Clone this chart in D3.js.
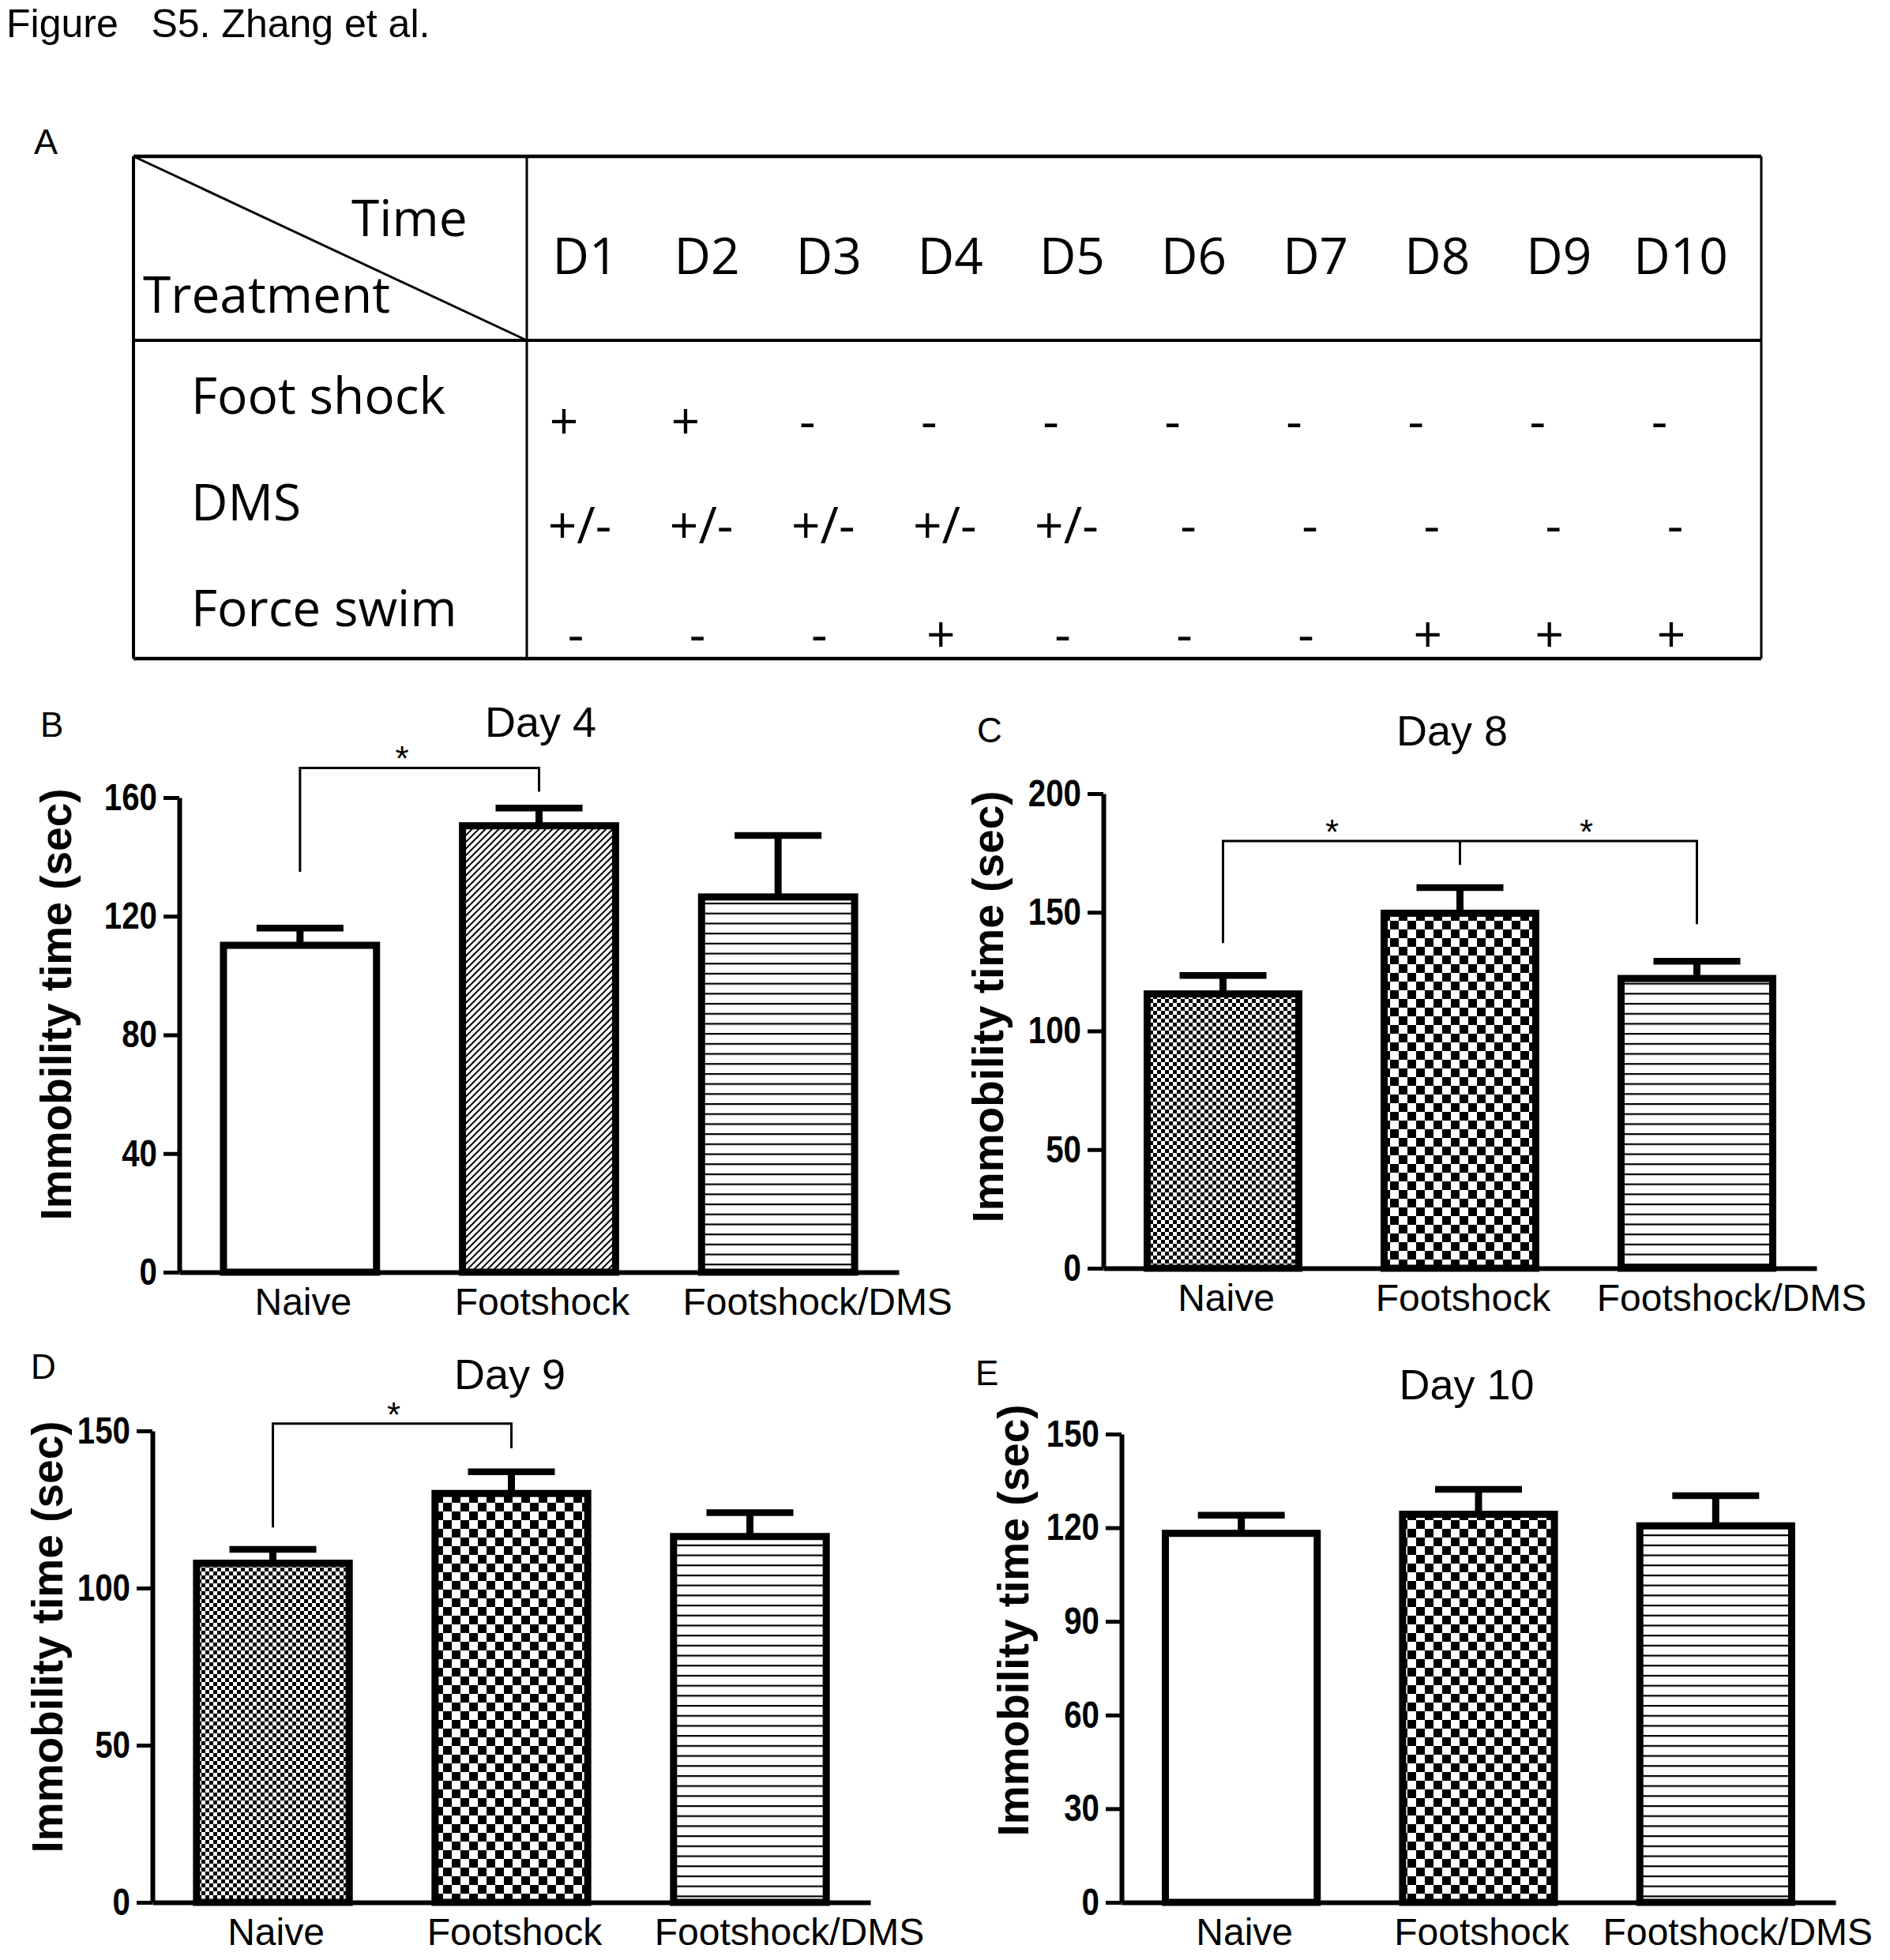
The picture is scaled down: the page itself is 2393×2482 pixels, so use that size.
<!DOCTYPE html>
<html>
<head>
<meta charset="utf-8">
<script src="https://cdn.jsdelivr.net/npm/d3@7"></script>
<style>
  body { margin: 0; background: #fff; }
  text { font-family: "Liberation Sans", Arial, sans-serif; fill: #000; }
  .tbl { font-family: "Open Sans", "Noto Sans", sans-serif; }
</style>
</head>
<body>
<div id="chart"></div>
<script>
// ---- table (panel A) ----
const days = ["D1", "D2", "D3", "D4", "D5", "D6", "D7", "D8", "D9", "D10"];
const treatments = ["Foot shock", "DMS", "Force swim"];
const footShock = ["+", "+", "-", "-", "-", "-", "-", "-", "-", "-"];
const dmsTreat = ["+/-", "+/-", "+/-", "+/-", "+/-", "-", "-", "-", "-", "-"];
const forceSwim = ["-", "-", "-", "+", "-", "-", "-", "+", "+", "+"];

// ---- bar charts (panels B-E), mean and SEM ----
const groups = ["Naive", "Footshock", "Footshock/DMS"];
const day4Mean = [110.2, 150.5, 126.5];
const day4Sem = [5.8, 6.0, 20.7];
const day8Mean = [115.6, 149.6, 122.1];
const day8Sem = [7.8, 10.8, 7.3];
const day9Mean = [107.9, 130.1, 116.4];
const day9Sem = [4.4, 6.9, 7.6];
const day10Mean = [118.2, 124.3, 120.6];
const day10Sem = [5.8, 8.0, 9.7];

const day4Ticks = [0, 40, 80, 120, 160];
const day8Ticks = [0, 50, 100, 150, 200];
const day9Ticks = [0, 50, 100, 150];
const day10Ticks = [0, 30, 60, 90, 120, 150];

// significance brackets: legs (group, lower end) joined at "top"
const day4Sig = { top: 170, legs: [[0, 135], [1, 162]] };
const day8Sig = { top: 180, legs: [[0, 137], [1, 170], [2, 145]] };
const day9Sig = { top: 152.3, legs: [[0, 119.3], [1, 144.5]] };

const W = 2393, H = 2482;
const svg = d3.select("#chart").append("svg")
  .attr("width", W).attr("height", H);

const defs = svg.append("defs");

// fill patterns
const hatch = defs.append("pattern").attr("id", "hatch")
  .attr("patternUnits", "userSpaceOnUse").attr("width", 6).attr("height", 6)
  .attr("patternTransform", "rotate(45)");
hatch.append("rect").attr("width", 6).attr("height", 6).attr("fill", "#fff");
hatch.append("rect").attr("width", 2.0).attr("height", 6).attr("fill", "#000");

const hlines = defs.append("pattern").attr("id", "hlines")
  .attr("patternUnits", "userSpaceOnUse").attr("width", 12).attr("height", 12.7);
hlines.append("rect").attr("width", 12).attr("height", 12.7).attr("fill", "#fff");
hlines.append("rect").attr("width", 12).attr("height", 2.2).attr("fill", "#000");

function checker(id, s) {
  const p = defs.append("pattern").attr("id", id)
    .attr("patternUnits", "userSpaceOnUse").attr("width", 2 * s).attr("height", 2 * s);
  p.append("rect").attr("width", 2 * s).attr("height", 2 * s).attr("fill", "#fff");
  p.append("rect").attr("width", s).attr("height", s).attr("fill", "#000");
  p.append("rect").attr("x", s).attr("y", s).attr("width", s).attr("height", s).attr("fill", "#000");
}
checker("checkBig", 11);
checker("checkFine", 5);

// ---- header ----
svg.append("text").attr("x", 8).attr("y", 47)
  .style("white-space", "pre").attr("font-size", 50).attr("fill", "#222")
  .text("Figure   S5. Zhang et al.");

// ---- panel A table ----
const tb = { left: 169, right: 2230, top: 198, bottom: 834, vx: 667, hy: 431 };
const gA = svg.append("g");
gA.append("text").attr("x", 43).attr("y", 195).attr("font-size", 45).text("A");

const tl = gA.append("g").attr("stroke", "#000").attr("fill", "none");
tl.append("line").attr("x1", tb.left).attr("x2", tb.right).attr("y1", tb.top).attr("y2", tb.top).attr("stroke-width", 4.5);
tl.append("line").attr("x1", tb.left).attr("x2", tb.right).attr("y1", tb.bottom).attr("y2", tb.bottom).attr("stroke-width", 4.5);
tl.append("line").attr("x1", tb.left).attr("x2", tb.right).attr("y1", tb.hy).attr("y2", tb.hy).attr("stroke-width", 4);
tl.append("line").attr("x1", tb.left).attr("x2", tb.left).attr("y1", tb.top).attr("y2", tb.bottom).attr("stroke-width", 4);
tl.append("line").attr("x1", tb.right).attr("x2", tb.right).attr("y1", tb.top).attr("y2", tb.bottom).attr("stroke-width", 3);
tl.append("line").attr("x1", tb.vx).attr("x2", tb.vx).attr("y1", tb.top).attr("y2", tb.bottom).attr("stroke-width", 3);
tl.append("line").attr("x1", tb.left).attr("y1", tb.top).attr("x2", tb.vx).attr("y2", tb.hy).attr("stroke-width", 3);

const tf = 64;
gA.append("text").attr("class", "tbl").attr("x", 445).attr("y", 299).attr("font-size", tf).text("Time");
gA.append("text").attr("class", "tbl").attr("x", 181).attr("y", 396).attr("font-size", tf).text("Treatment");

const dayX = d3.scalePoint().domain(days).range([741, 2128]);
gA.selectAll("text.day").data(days).enter().append("text")
  .attr("class", "tbl day").attr("x", d => dayX(d)).attr("y", 347)
  .attr("text-anchor", "middle").attr("font-size", tf).text(d => d);

const rowY = d3.scalePoint().domain(treatments).range([524, 793]);
gA.selectAll("text.row").data(treatments).enter().append("text")
  .attr("class", "tbl row").attr("x", 242).attr("y", d => rowY(d))
  .attr("font-size", tf).text(d => d);

const rows = [footShock, dmsTreat, forceSwim];
const rowShift = [-27, -7, -12];
const rowDy = [32, 29, 33];
rows.forEach((vals, r) => {
  gA.selectAll("text.sym" + r).data(vals).enter().append("text")
    .attr("class", "tbl sym" + r)
    .attr("x", (d, i) => dayX(days[i]) + rowShift[r])
    .attr("y", rowY(treatments[r]) + rowDy[r])
    .attr("text-anchor", "middle").attr("font-size", tf).text(d => d);
});

// ---- bar panels ----
function drawPanel(o) {
  const g = svg.append("g");
  const x = d3.scaleBand().domain(groups).range([o.x0, o.x1])
    .paddingInner(0.33).paddingOuter(0.17);
  const y = d3.scaleLinear().domain([0, d3.max(o.ticks)]).range([o.y0, o.y1]);
  const bw = x.bandwidth();
  const sw = 9;

  g.append("text").attr("x", o.letter[0]).attr("y", o.letter[1])
    .attr("font-size", 44).attr("fill", "#231f20").text(o.letter[2]);
  g.append("text").attr("x", (o.x0 + o.x1) / 2 + o.titleDx).attr("y", o.titleY)
    .attr("text-anchor", "middle").attr("font-size", 54).text(o.title);

  // bars
  g.selectAll("rect.bar").data(groups).enter().append("rect")
    .attr("class", "bar")
    .attr("x", d => x(d) + sw / 2)
    .attr("width", bw - sw)
    .attr("y", (d, i) => y(o.mean[i]))
    .attr("height", (d, i) => o.y0 - y(o.mean[i]))
    .attr("fill", (d, i) => o.fills[i])
    .attr("stroke", "#000").attr("stroke-width", sw);

  // error bars (upper only)
  const eb = g.selectAll("g.err").data(groups).enter().append("g").attr("class", "err")
    .attr("stroke", "#000");
  eb.append("line")
    .attr("x1", d => x(d) + bw / 2).attr("x2", d => x(d) + bw / 2)
    .attr("y1", (d, i) => y(o.mean[i])).attr("y2", (d, i) => y(o.mean[i] + o.sem[i]))
    .attr("stroke-width", 9);
  eb.append("line")
    .attr("x1", d => x(d) + bw / 2 - 55).attr("x2", d => x(d) + bw / 2 + 55)
    .attr("y1", (d, i) => y(o.mean[i] + o.sem[i])).attr("y2", (d, i) => y(o.mean[i] + o.sem[i]))
    .attr("stroke-width", 8.5);

  // y axis, labels slightly condensed like the original
  const sx = 0.84;
  const ya = g.append("g").attr("transform", `translate(${o.x0},0)`)
    .call(d3.axisLeft(y).tickValues(o.ticks).tickSize(20).tickSizeOuter(0).tickPadding(8));
  ya.select(".domain").attr("stroke-width", 6);
  ya.selectAll(".tick line").attr("stroke-width", 5);
  ya.selectAll(".tick text").attr("font-size", 48).attr("font-weight", "bold")
    .attr("font-family", "Liberation Sans, Arial, sans-serif").attr("fill", "#000")
    .attr("x", -28 / sx).attr("transform", `scale(${sx},1)`);

  // x axis
  const xa = g.append("g").attr("transform", `translate(0,${o.y0})`)
    .call(d3.axisBottom(x).tickSize(0).tickSizeOuter(0).tickPadding(20));
  xa.select(".domain").attr("stroke-width", 6);
  xa.selectAll(".tick text").attr("font-size", 48)
    .attr("font-family", "Liberation Sans, Arial, sans-serif").attr("fill", "#000")
    .attr("dx", (d, i) => i === 2 ? o.lastDx : 4);

  g.append("text")
    .attr("transform", `translate(${o.axisTitle[0]},${o.axisTitle[1]}) rotate(-90)`)
    .attr("text-anchor", "middle").attr("font-size", 55).attr("font-weight", "bold")
    .text("Immobility time (sec)");

  // significance bracket
  if (o.sig) {
    const cx = i => x(groups[i]) + bw / 2;
    const legs = o.sig.legs;
    const first = legs[0], last = legs[legs.length - 1];
    const p = d3.path();
    p.moveTo(cx(first[0]), y(first[1]));
    p.lineTo(cx(first[0]), y(o.sig.top));
    p.lineTo(cx(last[0]), y(o.sig.top));
    p.lineTo(cx(last[0]), y(last[1]));
    legs.slice(1, -1).forEach(l => {
      p.moveTo(cx(l[0]), y(o.sig.top));
      p.lineTo(cx(l[0]), y(l[1]));
    });
    g.append("path").attr("d", p.toString()).attr("fill", "none")
      .attr("stroke", "#000").attr("stroke-width", 3);
    for (let k = 0; k < legs.length - 1; k++) {
      g.append("text")
        .attr("x", (cx(legs[k][0]) + cx(legs[k + 1][0])) / 2 + o.starDx[k])
        .attr("y", y(o.sig.top) + 4)
        .attr("text-anchor", "middle").attr("font-size", 44).text("*");
    }
  }
}

drawPanel({
  letter: [51, 933, "B"], title: "Day 4", titleY: 933, titleDx: 2,
  x0: 227, x1: 1138, y0: 1611, y1: 1010, ticks: day4Ticks,
  mean: day4Mean, sem: day4Sem, fills: ["#fff", "url(#hatch)", "url(#hlines)"],
  axisTitle: [90, 1272], sig: day4Sig, starDx: [-22], lastDx: 50
});
drawPanel({
  letter: [1237, 940, "C"], title: "Day 8", titleY: 944, titleDx: -10,
  x0: 1397, x1: 2300, y0: 1606, y1: 1005, ticks: day8Ticks,
  mean: day8Mean, sem: day8Sem, fills: ["url(#checkFine)", "url(#checkBig)", "url(#hlines)"],
  axisTitle: [1270, 1275], sig: day8Sig, starDx: [-12, 10], lastDx: 44
});
drawPanel({
  letter: [39, 1746, "D"], title: "Day 9", titleY: 1759, titleDx: -2,
  x0: 193, x1: 1102, y0: 2409, y1: 1812, ticks: day9Ticks,
  mean: day9Mean, sem: day9Sem, fills: ["url(#checkFine)", "url(#checkBig)", "url(#hlines)"],
  axisTitle: [79, 2073], sig: day9Sig, starDx: [2], lastDx: 50
});
drawPanel({
  letter: [1235, 1754, "E"], title: "Day 10", titleY: 1772, titleDx: -15,
  x0: 1420, x1: 2324, y0: 2409, y1: 1816, ticks: day10Ticks,
  mean: day10Mean, sem: day10Sem, fills: ["#fff", "url(#checkBig)", "url(#hlines)"],
  axisTitle: [1302, 2052], sig: null, lastDx: 28
});
</script>
</body>
</html>
